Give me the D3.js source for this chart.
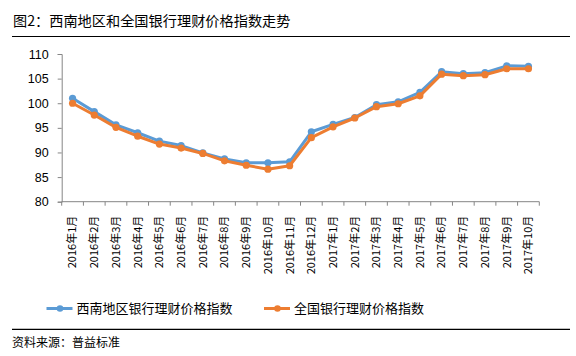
<!DOCTYPE html>
<html><head><meta charset="utf-8">
<script src="https://cdn.jsdelivr.net/npm/d3@7"></script>
<style>body{margin:0;background:#fff}svg{display:block}</style>
</head><body>
<svg id="c" width="576" height="356"></svg>
<script>
const categories = ["2016年1月","2016年2月","2016年3月","2016年4月","2016年5月","2016年6月","2016年7月","2016年8月","2016年9月","2016年10月","2016年11月","2016年12月","2017年1月","2017年2月","2017年3月","2017年4月","2017年5月","2017年6月","2017年7月","2017年8月","2017年9月","2017年10月"];
const southwest = [101.0,98.3,95.6,94.0,92.3,91.4,89.9,88.7,87.9,87.9,88.1,94.2,95.7,97.1,99.7,100.3,102.2,106.4,106.0,106.2,107.6,107.5];
const national = [100.0,97.6,95.1,93.3,91.7,90.9,89.8,88.3,87.4,86.6,87.3,93.0,95.2,97.0,99.3,99.9,101.5,105.9,105.6,105.8,107.0,107.0];
const yTicks = [80,85,90,95,100,105,110];
const seriesNames = ["西南地区银行理财价格指数","全国银行理财价格指数"];
const colors = ["#5B9BD5","#ED7D31"];

const svg = d3.select("#c");
const font = "'Noto Sans CJK SC', sans-serif";

// title
svg.append("text").attr("x",13).attr("y",26).attr("font-family",font).attr("font-size",14.2).attr("fill","#000").text("图2：西南地区和全国银行理财价格指数走势");
svg.append("line").attr("x1",12).attr("x2",570).attr("y1",36.5).attr("y2",36.5).attr("stroke","#000").attr("stroke-width",1.2);

const x = d3.scaleBand().domain(categories).range([61.7,539.3]);
const y = d3.scaleLinear().domain([80,110]).range([201.7,54]);

const axisColor = "#868686";
// y axis
const ya = svg.append("g").attr("transform","translate(61.7,0)")
  .call(d3.axisLeft(y).tickValues(yTicks).tickSize(4).tickPadding(9));
ya.select(".domain").attr("stroke",axisColor);
ya.selectAll(".tick line").attr("stroke",axisColor);
ya.selectAll("text").attr("font-family","'Liberation Sans', Arial, sans-serif").attr("font-size",12.5).attr("fill","#000");

// x axis
const xa = svg.append("g").attr("transform","translate(0,201.7)")
  .call(d3.axisBottom(x).tickSize(0).tickFormat(d=>d));
xa.select(".domain").attr("stroke",axisColor).attr("d","M61.7,0H539.3");
xa.selectAll(".tick text").attr("font-family",font).attr("font-size",11).attr("fill","#000")
  .attr("transform","rotate(-90)").attr("text-anchor","end").attr("dx","-14").attr("dy","0.35em").attr("y",0).attr("x",0);
// tick marks at band edges
const edges = categories.map(c=>x(c)).concat([x.range()[1]]);
svg.append("g").selectAll("line").data(edges).join("line")
  .attr("x1",d=>d).attr("x2",d=>d).attr("y1",201.7).attr("y2",205.7).attr("stroke",axisColor);

const line = d3.line().x((d,i)=>x(categories[i])+x.bandwidth()/2).y(d=>y(d));
[southwest, national].forEach((s,k)=>{
  const g = svg.append("g");
  g.append("path").datum(s).attr("d",line).attr("fill","none").attr("stroke",colors[k]).attr("stroke-width",3).attr("stroke-linejoin","round");
  g.selectAll("circle").data(s).join("circle")
    .attr("cx",(d,i)=>x(categories[i])+x.bandwidth()/2).attr("cy",d=>y(d)).attr("r",3.6).attr("fill",colors[k]);
});

// legend
const legX = [46.5, 264];
seriesNames.forEach((n,k)=>{
  const g = svg.append("g").attr("transform",`translate(${legX[k]},308.5)`);
  g.append("line").attr("x1",0).attr("x2",26).attr("y1",0).attr("y2",0).attr("stroke",colors[k]).attr("stroke-width",3);
  g.append("circle").attr("cx",13.5).attr("cy",0).attr("r",3.3).attr("fill",colors[k]);
  g.append("text").attr("x",30).attr("y",0).attr("dy","0.36em").attr("font-family",font).attr("font-size",13).attr("fill","#000").text(n);
});

svg.append("line").attr("x1",12).attr("x2",570).attr("y1",329.3).attr("y2",329.3).attr("stroke","#000").attr("stroke-width",1.2);
svg.append("text").attr("x",12).attr("y",347).attr("font-family",font).attr("font-size",12).attr("fill","#000").text("资料来源：普益标准");
</script>
</body></html>
